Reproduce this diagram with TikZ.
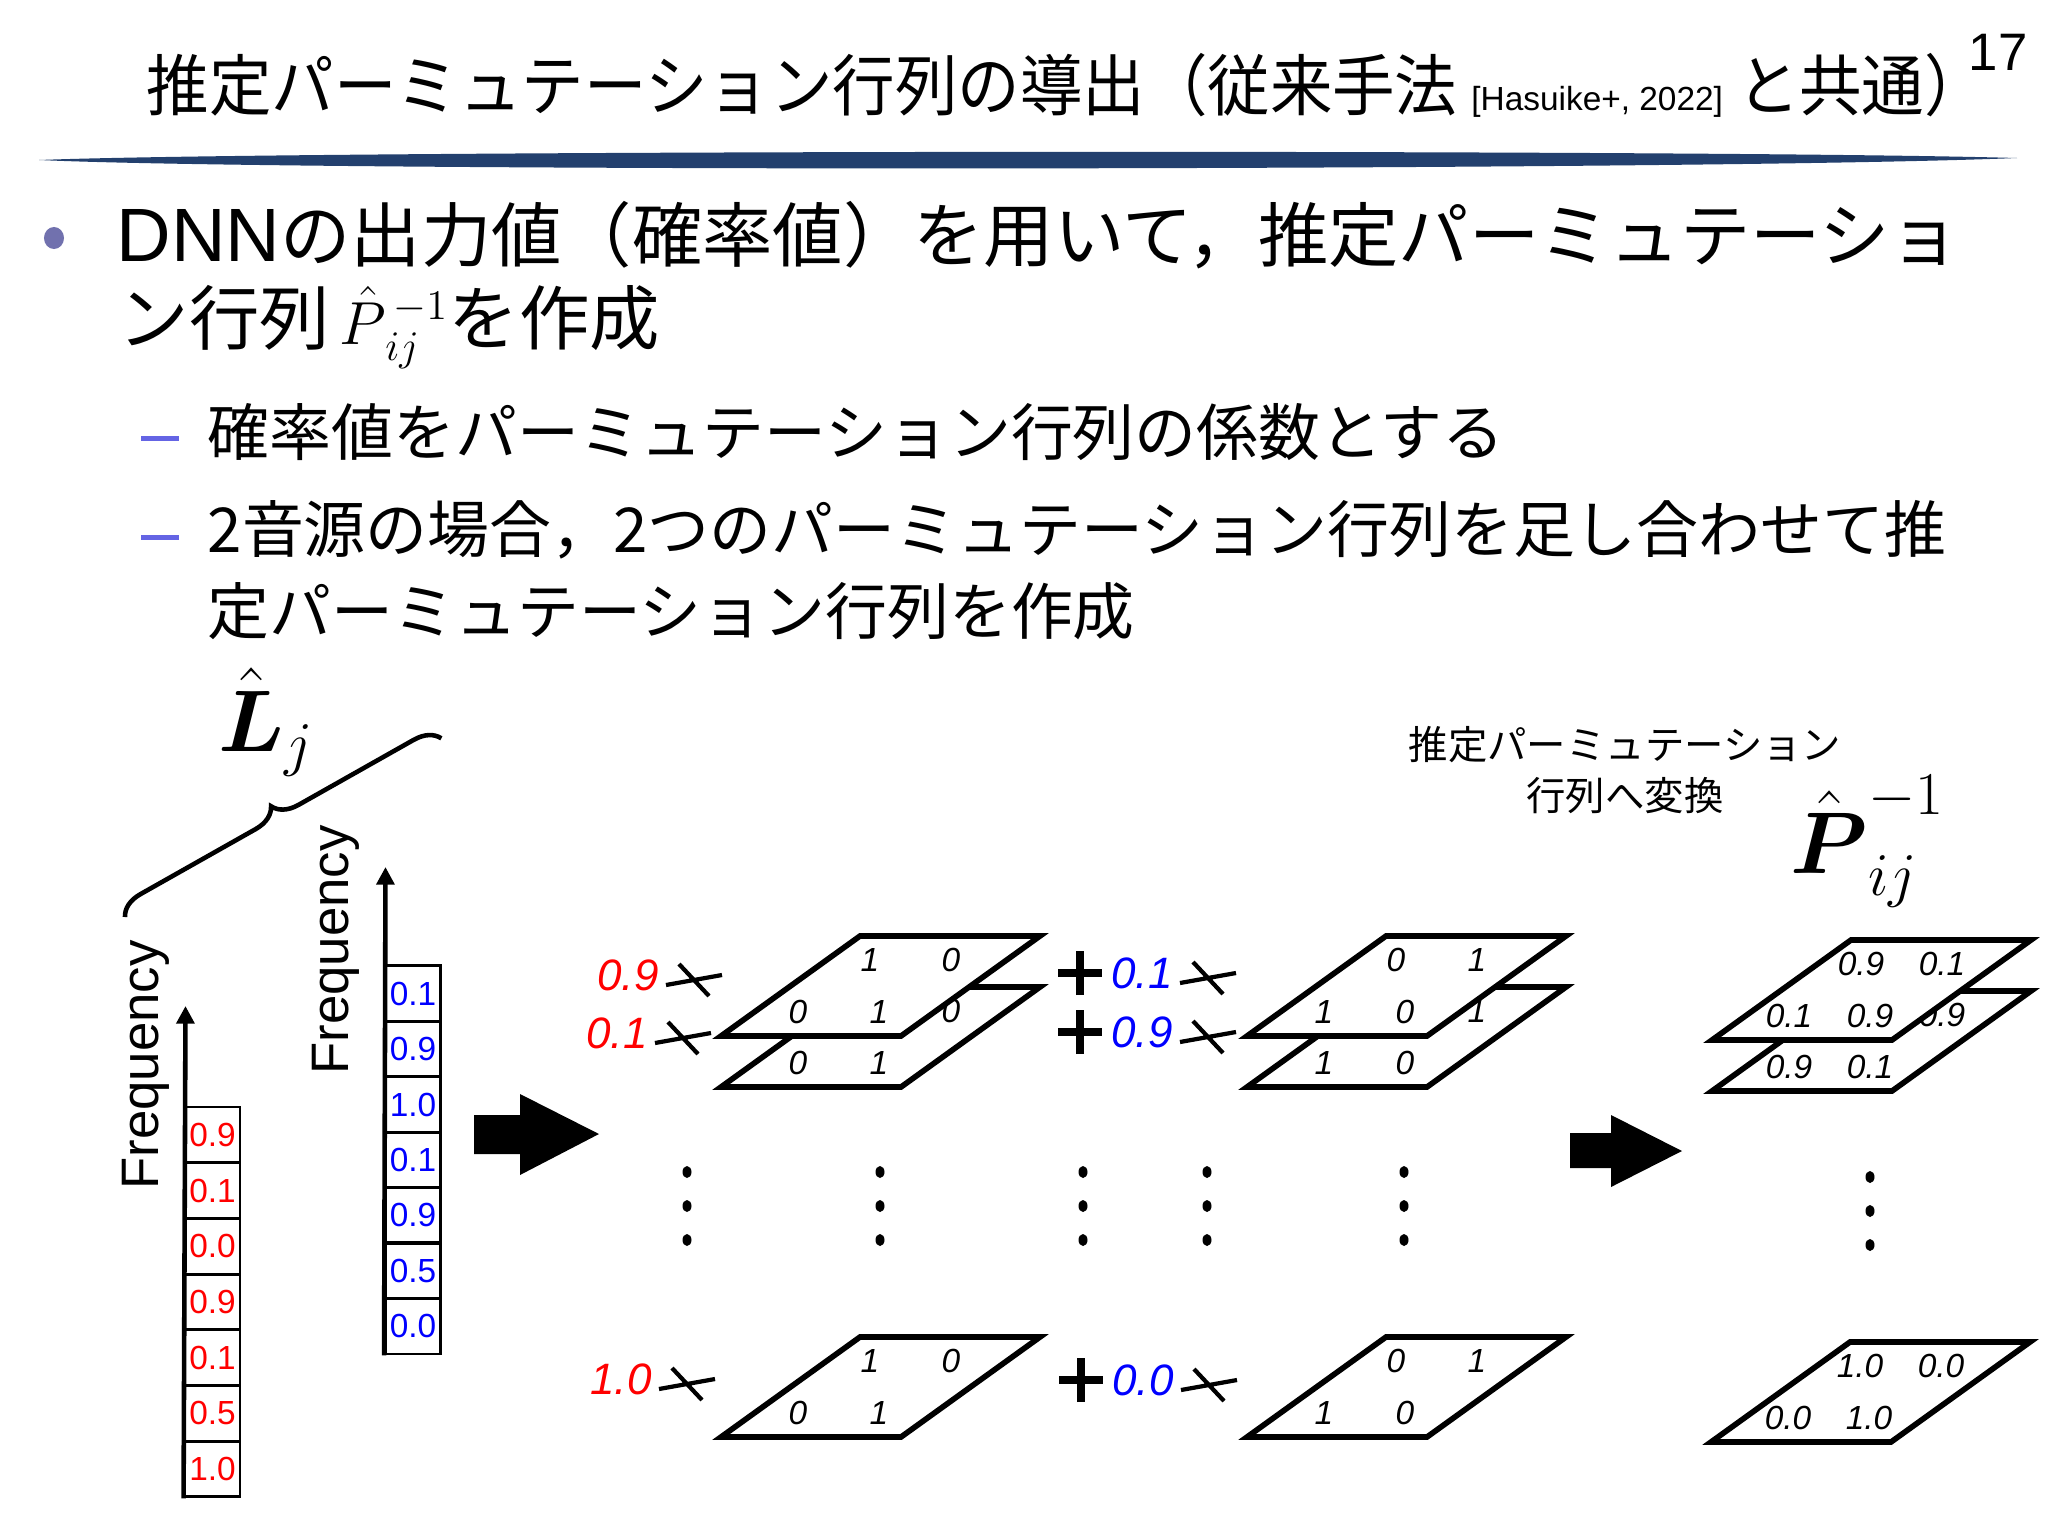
\documentclass[tikz,border=0pt]{standalone}
\usepackage{amsmath}
\usepackage{fontspec}
\setmainfont{Liberation Sans}
\newfontfamily\jp{Noto Sans CJK JP}
\newfontfamily\jptitle[FakeStretch=0.935]{Noto Sans CJK JP}
\usetikzlibrary{positioning,calc,decorations.pathreplacing,arrows.meta}
\definecolor{rulenavy}{HTML}{23406E}
\definecolor{bulletgray}{HTML}{7171AE}
\definecolor{dashblue}{HTML}{6464E4}

\tikzset{
  sheet/.style={draw=black, fill=white, line width=1.6pt},
  entry/.style={font=\fontsize{9.5}{11}\selectfont\itshape, inner sep=0pt},
  cell/.style={draw=black, line width=0.8pt, minimum width=0.55cm, minimum height=0.556cm, inner sep=0pt, font=\fontsize{9.5}{11}\selectfont},
  axisline/.style={line width=1.3pt, -{Triangle[length=5pt,width=5pt]}},
  coef/.style={font=\fontsize{12.5}{14}\selectfont\itshape, inner sep=0pt},
  timesmark/.style={line width=1.2pt},
  plusmark/.style={line width=2.4pt},
  freq/.style={rotate=90, font=\fontsize{15}{17}\selectfont, inner sep=0pt},
  bracestyle/.style={line width=1.3pt, decorate, decoration={brace, amplitude=7pt}},
  slidetext/.style={anchor=west, inner sep=0pt},
}

% one permutation sheet: #1 = bottom-left coordinate, #2..#5 = entries
\newcommand{\permsheet}[5]{%
  \filldraw[sheet] (#1) -- ++(180,0) -- ++(139,100) -- ++(-180,0) -- cycle;
  \node[entry] (#1-tl) at ([shift={(149,76)}]#1) {#2};
  \node[entry] (#1-tr) at ([shift={(230,76)}]#1) {#3};
  \node[entry] (#1-bl) at ([shift={(77,24)}]#1) {#4};
  \node[entry] (#1-br) at ([shift={(158,24)}]#1) {#5};
}

\begin{document}
\begin{tikzpicture}[x=0.01cm, y=0.01cm]
  \fill[white] (0,0) rectangle (2048,-1536);
  \useasboundingbox (0,0) rectangle (2048,-1536);

  % title and rule
  \node[slidetext] (title) at (146,-85) {\jptitle\fontsize{19}{22}\selectfont 推定パーミュテーション行列の導出（従来手法 {\rmfamily\fontsize{9.5}{11}\selectfont [Hasuike+, 2022]} と共通）};
  \node (pagenum) at (1998,-52) {\fontsize{15}{17}\selectfont 17};
  \fill[rulenavy] (39,-160) .. controls (300,-150) and (1700,-149) .. (2017,-158)
    .. controls (1700,-171) and (300,-172) .. (39,-160) -- cycle;

  % bullets
  \fill[bulletgray] (54,-238) ellipse [x radius=0.1cm, y radius=0.11cm];
  \node[slidetext] (line1) at (116,-235) {{\fontsize{21.5}{24}\selectfont DNN}{\jp\fontsize{20}{24}\selectfont の出力値（確率値）を用いて，推定パーミュテーショ}};
  \node[slidetext] (line2) at (118,-327) {\jp\fontsize{20}{24}\selectfont ン行列{\fontsize{17.5}{20}\selectfont\,${\hat{P}_{\,ij}}^{\,-1}$}を作成};
  \fill[dashblue] (141,-436) rectangle (179,-441);
  \fill[dashblue] (141,-535) rectangle (179,-540);
  \node[slidetext] (sub1) at (207,-432) {\jp\fontsize{17.6}{20}\selectfont 確率値をパーミュテーション行列の係数とする};
  \node[slidetext] (sub2) at (207,-530) {\jp\fontsize{17.6}{20}\selectfont 2音源の場合，2つのパーミュテーション行列を足し合わせて推};
  \node[slidetext] (sub3) at (207,-611) {\jp\fontsize{17.6}{20}\selectfont 定パーミュテーション行列を作成};

  % probability columns
  \foreach \v [count=\i] in {0.9,0.1,0.0,0.9,0.1,0.5,1.0}
    \node[cell, text=red] (r\i) at (212.5, {-1107-55.7*(\i-0.5)}) {\v};
  \foreach \v [count=\i] in {0.1,0.9,1.0,0.1,0.9,0.5,0.0}
    \node[cell, text=blue] (b\i) at (413, {-966-55.4*(\i-0.5)}) {\v};
  \coordinate (raxis) at (185.5,-1006);
  \coordinate (baxis) at (385.5,-867);
  \draw[axisline] (r7.south west) -- (raxis);
  \draw[axisline] (b7.south west) -- (baxis);
  \node[freq] (freqR) at (146,-1065) {Frequency};
  \node[freq] (freqB) at (336,-950) {Frequency};

  % brace and label
  \coordinate (braceA) at (125,-917);
  \coordinate (braceB) at (442,-738);
  \draw[bracestyle] (braceA) -- (braceB);
  \node (Lhat) at (266,-722) {\fontsize{27}{30}\selectfont$\hat{\boldsymbol{L}}_j$};

  % block arrows
  \fill (474,-1115) -- (520,-1115) -- (520,-1094) -- (599,-1134) -- (520,-1175) -- (520,-1154) -- (474,-1154) -- cycle;
  \fill (1570,-1133) -- (1611,-1133) -- (1611,-1115) -- (1682,-1151) -- (1611,-1187) -- (1611,-1168) -- (1570,-1168) -- cycle;

  % sheets
  \coordinate (sA1low) at (721,-1087);
  \coordinate (sA1) at (721,-1036);
  \coordinate (sB1low) at (1247,-1087);
  \coordinate (sB1) at (1247,-1036);
  \coordinate (sR1low) at (1712,-1091);
  \coordinate (sR1) at (1712,-1040);
  \coordinate (sA3) at (721,-1437);
  \coordinate (sB3) at (1247,-1437);
  \coordinate (sR3) at (1711,-1442);
  \permsheet{sA1low}{1}{0}{0}{1}
  \permsheet{sA1}{1}{0}{0}{1}
  \permsheet{sB1low}{0}{1}{1}{0}
  \permsheet{sB1}{0}{1}{1}{0}
  \permsheet{sR1low}{0.1}{0.9}{0.9}{0.1}
  \permsheet{sR1}{0.9}{0.1}{0.1}{0.9}
  \permsheet{sA3}{1}{0}{0}{1}
  \permsheet{sB3}{0}{1}{1}{0}
  \permsheet{sR3}{1.0}{0.0}{0.0}{1.0}

  % coefficients
  \node[coef, text=red] (cA1) at (628,-975) {0.9};
  \node[coef, text=red] (cA2) at (617,-1033) {0.1};
  \node[coef, text=red] (cA3) at (621,-1379) {1.0};
  \node[coef, text=blue] (cB1) at (1142,-973) {0.1};
  \node[coef, text=blue] (cB2) at (1142,-1032) {0.9};
  \node[coef, text=blue] (cB3) at (1143,-1380) {0.0};
  \foreach \c in {cA1,cA2,cA3,cB1,cB2,cB3}
    \draw[timesmark] ([shift={(66,-5)}]\c.center) ++(-28,-5) -- ++(56,10)
                     ([shift={(66,-5)}]\c.center) ++(-15,16) -- ++(30,-32);
  \foreach \c in {cB1,cB2,cB3}
    \draw[plusmark] ([shift={(-62,0)}]\c.center) ++(-22,0) -- ++(44,0)
                    ([shift={(-62,0)}]\c.center) ++(0,-22) -- ++(0,44);

  % vertical dots
  \foreach \x in {687,880,1083,1207,1404}
    \foreach \y in {1172,1206,1240}
      \fill (\x,-\y) ellipse [x radius=0.045cm, y radius=0.06cm];
  \foreach \y in {1177,1211,1245}
    \fill (1870,-\y) ellipse [x radius=0.045cm, y radius=0.06cm];

  % result label
  \node[align=center, font={\jp\fontsize{11.2}{14.5}\selectfont}] (convlabel) at (1625,-770) {推定パーミュテーション\\行列へ変換};
  \node (Phat) at (1868,-841) {\fontsize{26}{30}\selectfont$\hat{\boldsymbol{P}}_{ij}^{-1}$};
\end{tikzpicture}
\end{document}
